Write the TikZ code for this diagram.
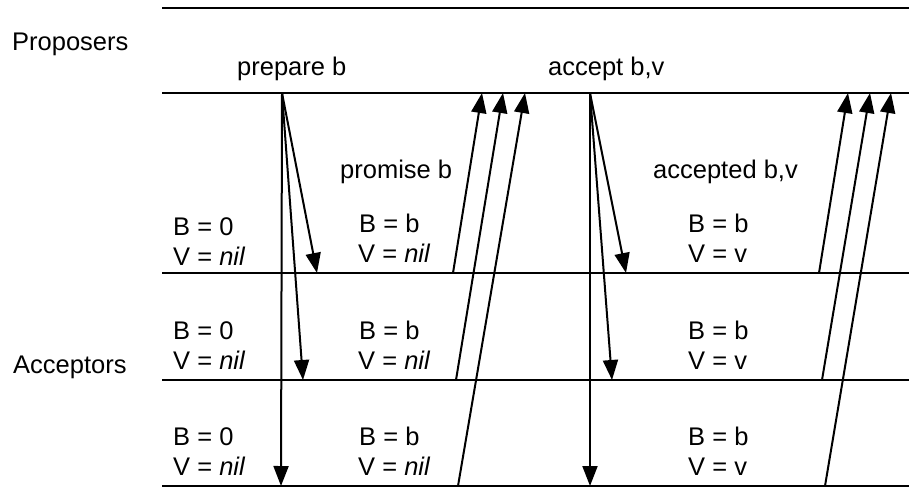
\documentclass[tikz,border=0pt]{standalone}
\usepackage{fontspec}
\setmainfont{Liberation Sans}
\usetikzlibrary{arrows.meta}
\begin{document}
\begin{tikzpicture}[x=1pt,y=-1pt,font=\fontsize{25.5}{30}\selectfont]
        \tikzstyle{rule}=[draw,line width=2pt]
        \tikzstyle{msg}=[draw,line width=2pt,-{Triangle[length=20pt,width=15pt]}]
        \tikzstyle{txt}=[anchor=base west,inner sep=0pt]
        \useasboundingbox (0,0) rectangle (909,487);
       \begin{scope}
         \coordinate (top w) at (162,8);   \coordinate (top e) at (909,8);
         \coordinate (prop w) at (162,93); \coordinate (prop e) at (909,93);
         \coordinate (acc1 w) at (162,273); \coordinate (acc1 e) at (909,273);
         \coordinate (acc2 w) at (162,380); \coordinate (acc2 e) at (909,380);
         \coordinate (acc3 w) at (162,486); \coordinate (acc3 e) at (909,486);
         \path[rule] (top w) -- (top e);
         \path[rule] (prop w) -- (prop e);
         \path[rule] (acc1 w) -- (acc1 e);
         \path[rule] (acc2 w) -- (acc2 e);
         \path[rule] (acc3 w) -- (acc3 e);
         \node [txt] (proposers) at (12,50) {Proposers};
         \node [txt] (acceptors) at (13,373) {Acceptors};
         \node [txt] (prepare) at (237,75) {prepare b};
         \node [txt] (accept) at (548,75) {accept b,v};
         \node [txt] (promise) at (340,178) {promise b};
         \node [txt] (accepted) at (653,178) {accepted b,v};
       \end{scope}
       \begin{scope}
         \node [txt] (b1) at (173,235) {B = 0};
         \node [txt] (v1) at (173,265) {V = \textit{nil}};
         \node [txt] (b2) at (173,339) {B = 0};
         \node [txt] (v2) at (173,369) {V = \textit{nil}};
         \node [txt] (b3) at (173,445) {B = 0};
         \node [txt] (v3) at (173,475) {V = \textit{nil}};
         \node [txt] (pb1) at (359,232) {B = b};
         \node [txt] (pv1) at (358,262) {V = \textit{nil}};
         \node [txt] (pb2) at (359,339) {B = b};
         \node [txt] (pv2) at (358,369) {V = \textit{nil}};
         \node [txt] (pb3) at (359,445) {B = b};
         \node [txt] (pv3) at (358,475) {V = \textit{nil}};
         \node [txt] (ab1) at (688,232) {B = b};
         \node [txt] (av1) at (688,262) {V = v};
         \node [txt] (ab2) at (688,339) {B = b};
         \node [txt] (av2) at (688,369) {V = v};
         \node [txt] (ab3) at (688,445) {B = b};
         \node [txt] (av3) at (688,475) {V = v};
       \end{scope}
       \begin{scope}
         \coordinate (prep) at (282,93);
         \coordinate (prep1) at (317,273);
         \coordinate (prep2) at (303,380);
         \coordinate (prep3) at (281,486);
         \path (prep) edge [msg] (prep1);
         \path (prep) edge [msg] (prep2);
         \path (prep) edge [msg] (prep3);
         \coordinate (prom1) at (453,273); \coordinate (prom1 t) at (482,93);
         \coordinate (prom2) at (456,380); \coordinate (prom2 t) at (503,93);
         \coordinate (prom3) at (458,486); \coordinate (prom3 t) at (525,93);
         \path (prom1) edge [msg] (prom1 t);
         \path (prom2) edge [msg] (prom2 t);
         \path (prom3) edge [msg] (prom3 t);
         \coordinate (acc) at (590,93);
         \coordinate (acc1) at (626,273);
         \coordinate (acc2) at (612,380);
         \coordinate (acc3) at (590,486);
         \path (acc) edge [msg] (acc1);
         \path (acc) edge [msg] (acc2);
         \path (acc) edge [msg] (acc3);
         \coordinate (acd1) at (819,273); \coordinate (acd1 t) at (848,93);
         \coordinate (acd2) at (822,380); \coordinate (acd2 t) at (870,93);
         \coordinate (acd3) at (825,486); \coordinate (acd3 t) at (891,93);
         \path (acd1) edge [msg] (acd1 t);
         \path (acd2) edge [msg] (acd2 t);
         \path (acd3) edge [msg] (acd3 t);
       \end{scope}
\end{tikzpicture}
\end{document}
